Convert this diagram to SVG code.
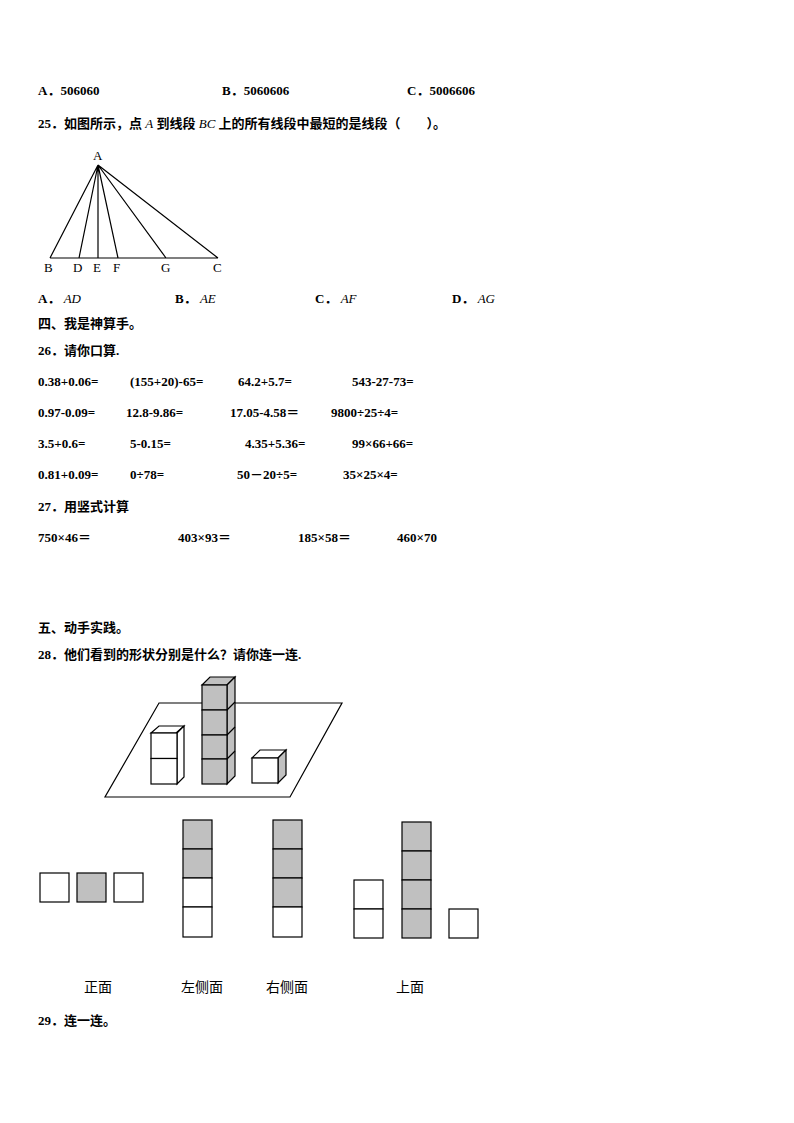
<svg xmlns="http://www.w3.org/2000/svg" width="794" height="1123" viewBox="0 0 794 1123">
<style>
.t{font-family:"Liberation Serif","Noto Sans CJK SC",serif;font-size:13px;font-weight:bold;fill:#000}
.l{font-family:"Liberation Serif",serif;font-size:13px;fill:#000}
.c{font-family:"Noto Sans CJK SC",sans-serif;font-size:14px;fill:#000}
.i{font-style:italic;font-weight:normal}
.s{stroke:#000;stroke-width:1.2;fill:none}
.w{stroke:#000;stroke-width:1.2;fill:#fff}
.g{stroke:#000;stroke-width:1.2;fill:#c0c0c0}
</style>
<rect width="794" height="1123" fill="#fff"/>
<g id="text">
<text class="t" x="38" y="95">A．506060</text>
<text class="t" x="222" y="95">B．5060606</text>
<text class="t" x="407" y="95">C．5006606</text>
<text class="t" x="38" y="128">25．如图所示，点 <tspan class="i">A</tspan> 到线段 <tspan class="i">BC</tspan> 上的所有线段中最短的是线段（　　）。</text>
<text class="t" x="38" y="303">A． <tspan class="i">AD</tspan></text>
<text class="t" x="175" y="303">B． <tspan class="i">AE</tspan></text>
<text class="t" x="315" y="303">C． <tspan class="i">AF</tspan></text>
<text class="t" x="452" y="303">D． <tspan class="i">AG</tspan></text>
<text class="t" x="38" y="328">四、我是神算手。</text>
<text class="t" x="38" y="355">26．请你口算.</text>
<text class="t" x="38" y="386">0.38+0.06=</text><text class="t" x="130" y="386">(155+20)-65=</text><text class="t" x="238" y="386">64.2+5.7=</text><text class="t" x="352" y="386">543-27-73=</text>
<text class="t" x="38" y="417">0.97-0.09=</text><text class="t" x="126" y="417">12.8-9.86=</text><text class="t" x="230" y="417">17.05-4.58＝</text><text class="t" x="331" y="417">9800÷25÷4=</text>
<text class="t" x="38" y="448">3.5+0.6=</text><text class="t" x="130" y="448">5-0.15=</text><text class="t" x="245" y="448">4.35+5.36=</text><text class="t" x="352" y="448">99×66+66=</text>
<text class="t" x="38" y="479">0.81+0.09=</text><text class="t" x="130" y="479">0÷78=</text><text class="t" x="237" y="479">50－20÷5=</text><text class="t" x="343" y="479">35×25×4=</text>
<text class="t" x="38" y="511">27．用竖式计算</text>
<text class="t" x="38" y="542">750×46＝</text><text class="t" x="178" y="542">403×93＝</text><text class="t" x="298" y="542">185×58＝</text><text class="t" x="397" y="542">460×70</text>
<text class="t" x="38" y="632">五、动手实践。</text>
<text class="t" x="38" y="659">28．他们看到的形状分别是什么？请你连一连.</text>
<text class="t" x="38" y="1025">29．连一连。</text>
</g>
<g id="triangle">
<path class="s" d="M50 258H218M98 165L50 258M98 165L79 258M98 165V258M98 165L118 258M98 165L166 258M98 165L218 258"/>
<text class="l" x="93" y="160">A</text>
<text class="l" x="44" y="272">B</text><text class="l" x="73" y="272">D</text><text class="l" x="93" y="272">E</text><text class="l" x="113" y="272">F</text><text class="l" x="161" y="272">G</text><text class="l" x="213" y="272">C</text>
</g>
<g id="cubes">
<path class="s" d="M159 703H342L290 797H105Z"/>
<g id="stackL">
<path class="w" d="M151 733l8-7h25l-8 7z"/><path class="w" d="M177 733l7-7v51l-7 7z"/>
<rect class="w" x="151" y="733" width="26" height="25.5"/><rect class="w" x="151" y="758.5" width="26" height="25.5"/>
</g>
<g id="stackT">
<rect x="201" y="680" width="35" height="20" fill="#fff"/>
<path class="g" d="M202 685l8-8h25l-8 8z"/><path class="g" d="M227 685l8-8v99l-8 8z"/>
<rect class="g" x="202" y="685" width="25" height="25"/><rect class="g" x="202" y="710" width="25" height="25"/><rect class="g" x="202" y="735" width="25" height="24"/><rect class="g" x="202" y="759" width="25" height="25"/>
<path class="s" d="M227 710l8-8M227 735l8-8M227 759l8-8"/>
</g>
<g id="cubeS">
<path class="w" d="M252 758l8-8h26l-8 8z"/><path class="g" d="M278 758l8-8v25l-8 8z"/>
<rect class="w" x="252" y="758" width="26" height="25"/>
</g>
</g>
<g id="views">
<rect class="w" x="40" y="873" width="29" height="29"/><rect class="g" x="77" y="873" width="29" height="29"/><rect class="w" x="114" y="873" width="29" height="29"/>
<rect class="g" x="183" y="820" width="29" height="29"/><rect class="g" x="183" y="849" width="29" height="29"/><rect class="w" x="183" y="878" width="29" height="29"/><rect class="w" x="183" y="907" width="29" height="30"/>
<rect class="g" x="273" y="820" width="29" height="29"/><rect class="g" x="273" y="849" width="29" height="29"/><rect class="g" x="273" y="878" width="29" height="29"/><rect class="w" x="273" y="907" width="29" height="30"/>
<rect class="w" x="354" y="880" width="29" height="29"/><rect class="w" x="354" y="909" width="29" height="29"/>
<rect class="g" x="402" y="822" width="29" height="29"/><rect class="g" x="402" y="851" width="29" height="29"/><rect class="g" x="402" y="880" width="29" height="29"/><rect class="g" x="402" y="909" width="29" height="29"/>
<rect class="w" x="449" y="909" width="29" height="29"/>
<text class="c" x="98" y="992" text-anchor="middle">正面</text>
<text class="c" x="202" y="992" text-anchor="middle">左侧面</text>
<text class="c" x="287" y="992" text-anchor="middle">右侧面</text>
<text class="c" x="410" y="992" text-anchor="middle">上面</text>
</g>
</svg>
